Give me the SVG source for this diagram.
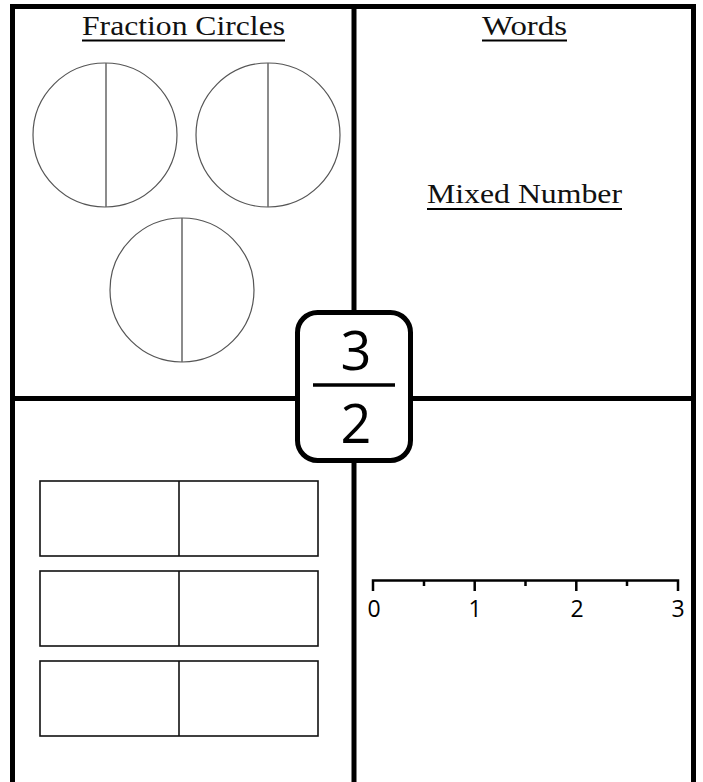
<svg xmlns="http://www.w3.org/2000/svg" width="703" height="782" viewBox="0 0 703 782">
<style>
.frame{stroke:#000;stroke-width:5;fill:none}
.circ{fill:#fff;stroke:#555;stroke-width:1.2}
.half{stroke:#666;stroke-width:1.5}
.bar{fill:#fff;stroke:#111;stroke-width:1.6}
.title{font-family:"Liberation Serif","Times New Roman",serif;font-size:28px;fill:#111}
.ul{stroke:#000;stroke-width:2}
.num{font-family:"Open Sans","DejaVu Sans",sans-serif;fill:#000}
.nl{stroke:#000;stroke-width:2.5;fill:none}
</style>
<rect width="703" height="782" fill="#fff"/>
<g id="frame">
<path class="frame" d="M12.5,790 V6.5 H693.5 V790"/>
<line class="frame" x1="354" y1="6" x2="354" y2="790"/>
<line class="frame" x1="12" y1="398.5" x2="694" y2="398.5"/>
</g>
<g id="fraction-circles">
<text class="title" x="183.5" y="35" text-anchor="middle" textLength="203" lengthAdjust="spacingAndGlyphs">Fraction Circles</text>
<line class="ul" x1="82" y1="40.5" x2="285" y2="40.5"/>
<circle class="circ" cx="105" cy="135" r="72"/>
<line class="half" x1="106" y1="63" x2="106" y2="207"/>
<circle class="circ" cx="268" cy="135" r="72"/>
<line class="half" x1="268" y1="63" x2="268" y2="207"/>
<circle class="circ" cx="182" cy="290" r="72"/>
<line class="half" x1="182" y1="218" x2="182" y2="362"/>
</g>
<g id="words">
<text class="title" x="524.5" y="35" text-anchor="middle" textLength="85" lengthAdjust="spacingAndGlyphs">Words</text>
<line class="ul" x1="482" y1="40.5" x2="567" y2="40.5"/>
<text class="title" x="524.5" y="203" text-anchor="middle" textLength="195" lengthAdjust="spacingAndGlyphs">Mixed Number</text>
<line class="ul" x1="427" y1="209" x2="622" y2="209"/>
</g>
<g id="bars">
<rect class="bar" x="40" y="481" width="278" height="75"/>
<line class="bar" x1="179" y1="481" x2="179" y2="556"/>
<rect class="bar" x="40" y="571" width="278" height="75"/>
<line class="bar" x1="179" y1="571" x2="179" y2="646"/>
<rect class="bar" x="40" y="661" width="278" height="75"/>
<line class="bar" x1="179" y1="661" x2="179" y2="736"/>
</g>
<g id="number-line">
<path class="nl" d="M373,591 V580.5 H678 V591"/>
<path class="nl" d="M424,580 V586 M474.7,580 V591 M525.5,580 V586 M576.3,580 V591 M627,580 V586"/>
<text class="num" font-size="23" x="374" y="617" text-anchor="middle">0</text>
<text class="num" font-size="23" x="475" y="617" text-anchor="middle">1</text>
<text class="num" font-size="23" x="577" y="617" text-anchor="middle">2</text>
<text class="num" font-size="23" x="678" y="617" text-anchor="middle">3</text>
</g>
<g id="fraction">
<rect x="297.5" y="312.5" width="113" height="148" rx="20" fill="#fff" stroke="#000" stroke-width="5"/>
<text class="num" font-size="54" x="356" y="370" text-anchor="middle">3</text>
<line x1="313" y1="385" x2="395" y2="385" stroke="#000" stroke-width="3.5"/>
<text class="num" font-size="54" x="356" y="443" text-anchor="middle">2</text>
</g>
</svg>
